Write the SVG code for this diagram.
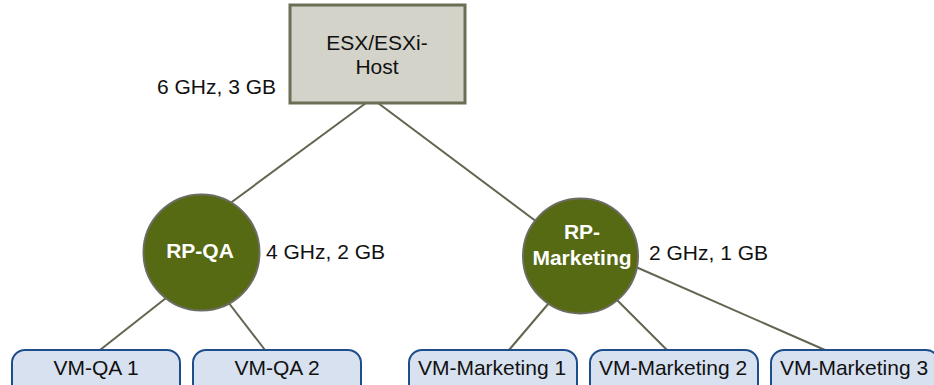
<svg xmlns="http://www.w3.org/2000/svg" width="934" height="385" viewBox="0 0 934 385">
<style>
text{font-family:"Liberation Sans",Arial,sans-serif;font-size:21px;fill:#111}
.c{text-anchor:middle}
.w{fill:#fff;font-weight:bold}
.ln{stroke:#62654f;stroke-width:2;fill:none}
.rp{fill:#556a12;stroke:#6c6c62;stroke-width:2}
.vm{fill:#d7e1f0;stroke:#1d4d8b;stroke-width:2}
</style>
<rect width="934" height="385" fill="#fff"/>
<g id="connectors">
<line class="ln" x1="366" y1="103" x2="225" y2="207"/>
<line class="ln" x1="378" y1="103" x2="545" y2="228"/>
<line class="ln" x1="180" y1="287" x2="100" y2="350"/>
<line class="ln" x1="215" y1="285" x2="265" y2="350"/>
<line class="ln" x1="560" y1="290" x2="509" y2="350"/>
<line class="ln" x1="610" y1="293" x2="667" y2="350"/>
<line class="ln" x1="620" y1="260" x2="825" y2="350"/>
</g>
<g id="host">
<rect x="290" y="5" width="175" height="98" fill="#d3d3ca" stroke="#6b6e55" stroke-width="3"/>
<text class="c" x="377" y="50">ESX/ESXi-</text>
<text class="c" x="377" y="74">Host</text>
</g>
<text x="157" y="94">6 GHz, 3 GB</text>
<g id="rp-qa">
<circle class="rp" cx="201.5" cy="252.5" r="58"/>
<text class="c w" x="200" y="258">RP-QA</text>
</g>
<text x="266" y="259">4 GHz, 2 GB</text>
<g id="rp-marketing">
<circle class="rp" cx="580.5" cy="256" r="57.5"/>
<text class="c w" x="582" y="239">RP-</text>
<text class="c w" x="582" y="265">Marketing</text>
</g>
<text x="649" y="260">2 GHz, 1 GB</text>
<g id="vm-qa-1">
<rect class="vm" x="12" y="350" width="168" height="50" rx="13"/>
<text class="c" x="96" y="375">VM-QA 1</text>
</g>
<g id="vm-qa-2">
<rect class="vm" x="193" y="350" width="168" height="50" rx="13"/>
<text class="c" x="277" y="375">VM-QA 2</text>
</g>
<g id="vm-marketing-1">
<rect class="vm" x="409" y="350" width="168" height="50" rx="13"/>
<text class="c" x="492" y="375">VM-Marketing 1</text>
</g>
<g id="vm-marketing-2">
<rect class="vm" x="590" y="350" width="168" height="50" rx="13"/>
<text class="c" x="673" y="375">VM-Marketing 2</text>
</g>
<g id="vm-marketing-3">
<rect class="vm" x="771" y="350" width="168" height="50" rx="13"/>
<text class="c" x="854" y="375">VM-Marketing 3</text>
</g>
</svg>
